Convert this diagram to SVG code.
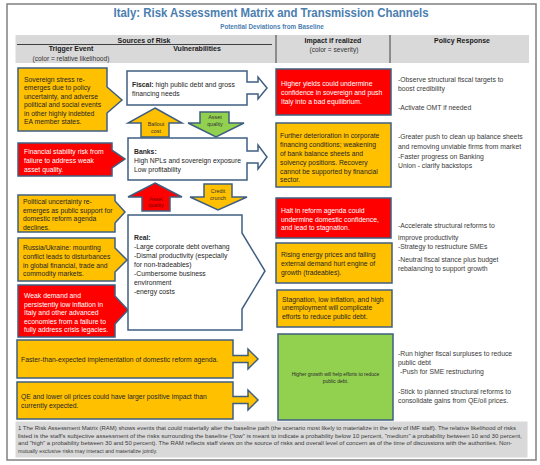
<svg xmlns="http://www.w3.org/2000/svg" width="540" height="465" viewBox="0 0 540 465">
<style>
text{font-family:"Liberation Sans",Arial,sans-serif;}
.t{font-size:6.8px;fill:#262626;}
.tw{font-size:6.8px;fill:#ffffff;}
.p{font-size:6.8px;fill:#3a3a3a;}
.h{font-size:7px;font-weight:bold;fill:#1a1a1a;}
.hs{font-size:6.6px;fill:#333;}
.a{font-size:5.4px;fill:#333;text-anchor:middle;}
.ar{font-size:5.4px;fill:#7a0000;text-anchor:middle;}
.f{font-size:5.3px;fill:#3a3a3a;}
.bx{stroke:#3f5f80;stroke-width:1.5;stroke-linejoin:miter;}
.org{fill:#ffc000;}
.red{fill:#ff0000;}
.grn{fill:#92d050;}
.wht{fill:#ffffff;}
</style>
<rect x="0" y="0" width="540" height="465" fill="#ffffff"/>
<rect x="7" y="4" width="529" height="456" fill="#ffffff" stroke="#808080" stroke-width="1.5"/>
<g id="title">
<text x="271" y="17" text-anchor="middle" font-size="12.5" font-weight="bold" fill="#4a7eb0" textLength="315" lengthAdjust="spacingAndGlyphs">Italy: Risk Assessment Matrix and Transmission Channels</text>
<text x="272" y="29" text-anchor="middle" font-size="6.3" font-weight="bold" fill="#4a7eb0">Potential Deviations from Baseline</text>
</g>
<g id="header">
<rect x="15.5" y="35" width="513.5" height="28" fill="#d9d9d9"/>
<line x1="17" y1="44.5" x2="272" y2="44.5" stroke="#404040" stroke-width="1"/>
<line x1="276" y1="35" x2="276" y2="63" stroke="#404040" stroke-width="1"/>
<line x1="390" y1="35" x2="390" y2="63" stroke="#404040" stroke-width="1"/>
<text class="h" x="144" y="42.5" text-anchor="middle">Sources of Risk</text>
<text class="h" x="71" y="51" text-anchor="middle">Trigger Event</text>
<text class="hs" x="71" y="60.5" text-anchor="middle">(color = relative likelihood)</text>
<text class="h" x="197" y="51" text-anchor="middle">Vulnerabilities</text>
<text class="h" x="333" y="42.5" text-anchor="middle">Impact if realized</text>
<text class="hs" x="334" y="51.5" text-anchor="middle">(color = severity)</text>
<text class="h" x="462" y="42.5" text-anchor="middle">Policy Response</text>
</g>
<g id="trigger-sovereign">
<polygon class="bx org" points="18,68 107,68 107,87 122,100 107,113 107,131 18,131"/>
<text class="t" x="24" y="81.5">Sovereign stress re-</text>
<text class="t" x="24" y="90">emerges due to policy</text>
<text class="t" x="24" y="98.5">uncertainty, and adverse</text>
<text class="t" x="24" y="107">political and social events</text>
<text class="t" x="24" y="115.5">in other highly indebted</text>
<text class="t" x="24" y="124">EA member states.</text>
</g>
<g id="trigger-financial">
<polygon class="bx red" points="18,143 112,143 112,150 125,159 112,168 112,176 18,176"/>
<text class="tw" x="24" y="153.5">Financial stability risk from</text>
<text class="tw" x="24" y="162.5">failure to address weak</text>
<text class="tw" x="24" y="171.5">asset quality.</text>
</g>
<g id="trigger-political">
<polygon class="bx org" points="18,195 115,195 115,201 125,212 115,223 115,232 18,232"/>
<text class="t" x="23" y="203.5">Political uncertainty re-</text>
<text class="t" x="23" y="212.5">emerges as public support for</text>
<text class="t" x="23" y="221">domestic reform agenda</text>
<text class="t" x="23" y="229.5">declines.</text>
</g>
<g id="trigger-russia">
<polygon class="bx org" points="18,238 115,238 115,248 127,260 115,272 115,281 18,281"/>
<text class="t" x="23" y="250">Russia/Ukraine: mounting</text>
<text class="t" x="23" y="259">conflict leads to disturbances</text>
<text class="t" x="23" y="267.5">in global financial, trade and</text>
<text class="t" x="23" y="276">commodity markets.</text>
</g>
<g id="trigger-weak-demand">
<polygon class="bx red" points="18,285 115,285 115,296 128,310 115,324 115,337 18,337"/>
<text class="tw" x="24" y="297.5">Weak demand and</text>
<text class="tw" x="24" y="306.5">persistently low inflation in</text>
<text class="tw" x="24" y="315">Italy and other advanced</text>
<text class="tw" x="24" y="323.5">economies from a failure to</text>
<text class="tw" x="24" y="332">fully address crisis legacies.</text>
</g>
<g id="trigger-faster-reform">
<polygon class="bx org" points="17,340 233,340 233,355.5 248,355.5 248,349 258,359 248,369 248,362.5 233,362.5 233,378 17,378"/>
<text class="t" x="21" y="362">Faster-than-expected  implementation  of domestic reform agenda.</text>
</g>
<g id="trigger-qe">
<polygon class="bx org" points="17,382 233,382 233,396.5 248,396.5 248,390 258,400 248,410 248,403.5 233,403.5 233,419 17,419"/>
<text class="t" x="21" y="398.5">QE and lower oil prices  could have larger positive impact than</text>
<text class="t" x="21" y="407.5">currently expected.</text>
</g>
<g id="vuln-fiscal">
<polygon class="bx wht" points="127,71 247,71 247,82 258,82 258,77 267,88 258,99 258,94 247,94 247,105 127,105"/>
<text class="t" x="132" y="87"><tspan font-weight="bold">Fiscal:</tspan> high public debt and gross</text>
<text class="t" x="132" y="95.5">financing needs</text>
</g>
<g id="vuln-banks">
<polygon class="bx wht" points="128,138 247,138 247,151 258,151 258,145 267,157 258,169 258,163 247,163 247,180 128,180"/>
<text class="t" x="134" y="153.5" font-weight="bold">Banks:</text>
<text class="t" x="134" y="162.5">High NPLs and sovereign exposure</text>
<text class="t" x="134" y="171.5">Low profitability</text>
</g>
<g id="vuln-real">
<polygon class="bx wht" points="128,215 242,215 242,233 265,271 242,309 242,330 128,330"/>
<text class="t" x="134" y="239.5" font-weight="bold">Real:</text>
<text class="t" x="134" y="248.5">-Large corporate debt overhang</text>
<text class="t" x="134" y="257.5">-Dismal productivity  (especially</text>
<text class="t" x="134" y="266.5">for non-tradeables)</text>
<text class="t" x="134" y="275.5">-Cumbersome business</text>
<text class="t" x="134" y="284.5">environment</text>
<text class="t" x="134" y="294">-energy costs</text>
</g>
<g id="connectors">
<polygon class="bx org" points="155,108 182,123 169,123 169,137 141,137 141,123 128,123"/>
<text class="a" x="156" y="126">Ballout</text>
<text class="a" x="156" y="132.5">cost</text>
<polygon class="bx grn" points="200,112 229,112 229,123 244,123 216,137 188,123 200,123"/>
<text class="a" x="215" y="118.5">Asset</text>
<text class="a" x="215" y="125.5">quality</text>
<polygon class="bx red" points="155,183 182,197 170,197 170,211 142,211 142,197 128,197"/>
<text class="ar" x="156" y="200.5">Asset</text>
<text class="ar" x="156" y="207">quality</text>
<polygon class="bx org" points="204,184 232,184 232,197 247,197 218,210 190,197 204,197"/>
<text class="a" x="218" y="193">Credit</text>
<text class="a" x="218" y="200">crunch</text>
</g>
<g id="impact-yields">
<rect class="bx red" x="276" y="69" width="115" height="46"/>
<text class="tw" x="281" y="85.5">Higher  yields could undermine</text>
<text class="tw" x="281" y="94.5">confidence in sovereign and push</text>
<text class="tw" x="281" y="103.5">Italy into a bad equilibrium.</text>
</g>
<g id="impact-financing">
<rect class="bx org" x="276" y="123" width="115" height="64"/>
<text class="t" x="280" y="137.5">Further deterioration in corporate</text>
<text class="t" x="280" y="146.5">financing conditions; weakening</text>
<text class="t" x="280" y="155.5">of bank balance sheets and</text>
<text class="t" x="280" y="164.5">solvency positions. Recovery</text>
<text class="t" x="280" y="173.5">cannot be supported by financial</text>
<text class="t" x="280" y="182">sector.</text>
</g>
<g id="impact-halt">
<rect class="bx red" x="276" y="198" width="115" height="40"/>
<text class="tw" x="281" y="212.5">Halt in reform agenda could</text>
<text class="tw" x="281" y="221.5">undermine domestic  confidence,</text>
<text class="tw" x="281" y="230">and lead to stagnation.</text>
</g>
<g id="impact-energy">
<rect class="bx org" x="276" y="243" width="116" height="40"/>
<text class="t" x="281" y="257">Rising energy prices and falling</text>
<text class="t" x="281" y="266">external demand  hurt engine of</text>
<text class="t" x="281" y="275">growth (tradeables).</text>
</g>
<g id="impact-stagnation">
<rect class="bx org" x="277" y="290" width="115" height="37"/>
<text class="t" x="282" y="301.5">Stagnation, low inflation, and high</text>
<text class="t" x="282" y="310">unemployment  will  complicate</text>
<text class="t" x="282" y="319">efforts to reduce public debt.</text>
</g>
<g id="impact-growth">
<rect class="bx grn" x="278" y="334" width="115" height="86"/>
<text x="335.5" y="375.5" font-size="5" fill="#2b2b2b" text-anchor="middle">Higher growth will help efforts to reduce</text>
<text x="335.5" y="382.5" font-size="5" fill="#2b2b2b" text-anchor="middle">public debt.</text>
</g>
<g id="policy">
<text class="p" x="398" y="81.5">-Observe structural fiscal targets to</text>
<text class="p" x="398" y="90.5">boost credibility</text>
<text class="p" x="398" y="110">-Activate OMT if needed</text>
<text class="p" x="398" y="139">-Greater push to clean up balance sheets</text>
<text class="p" x="398" y="148.5">and removing unviable firms from market</text>
<text class="p" x="398" y="158.5">-Faster progress on Banking</text>
<text class="p" x="398" y="168">Union - clarify backstops</text>
<text class="p" x="398" y="228">-Accelerate structural reforms to</text>
<text class="p" x="398" y="240">improve  productivity</text>
<text class="p" x="398" y="249">-Strategy to restructure SMEs</text>
<text class="p" x="398" y="261.5">-Neutral fiscal stance plus budget</text>
<text class="p" x="398" y="271">rebalancing to support growth</text>
<text class="p" x="398" y="356">-Run higher fiscal surpluses to reduce</text>
<text class="p" x="398" y="365">public debt</text>
<text class="p" x="400" y="374">-Push for SME restructuring</text>
<text class="p" x="398" y="394">-Stick to planned structural reforms to</text>
<text class="p" x="398" y="403">consolidate gains from QE/oil prices.</text>
</g>
<g id="footer">
<rect x="15.5" y="421.5" width="512" height="36" fill="#d9d9d9"/>
<text class="f" x="18" y="430" textLength="498" lengthAdjust="spacingAndGlyphs">1 The Risk Assessment Matrix (RAM) shows events that could materially alter the baseline path (the scenario most likely to materialize in the view of IMF staff). The relative likelihood of risks</text>
<text class="f" x="18" y="437.5" textLength="504" lengthAdjust="spacingAndGlyphs">listed is the staff's subjective assessment of the risks surrounding the baseline ("low" is meant to indicate a probability below 10 percent, "medium" a probability between 10 and 30 percent,</text>
<text class="f" x="18" y="445" textLength="494" lengthAdjust="spacingAndGlyphs">and "high" a probability between 30 and 50 percent). The RAM reflects staff views on the source of risks and overall level of concern as of the time of discussions with the authorities. Non-</text>
<text class="f" x="18" y="452.5">mutually exclusive risks may interact and materialize jointly.</text>
</g>
</svg>
